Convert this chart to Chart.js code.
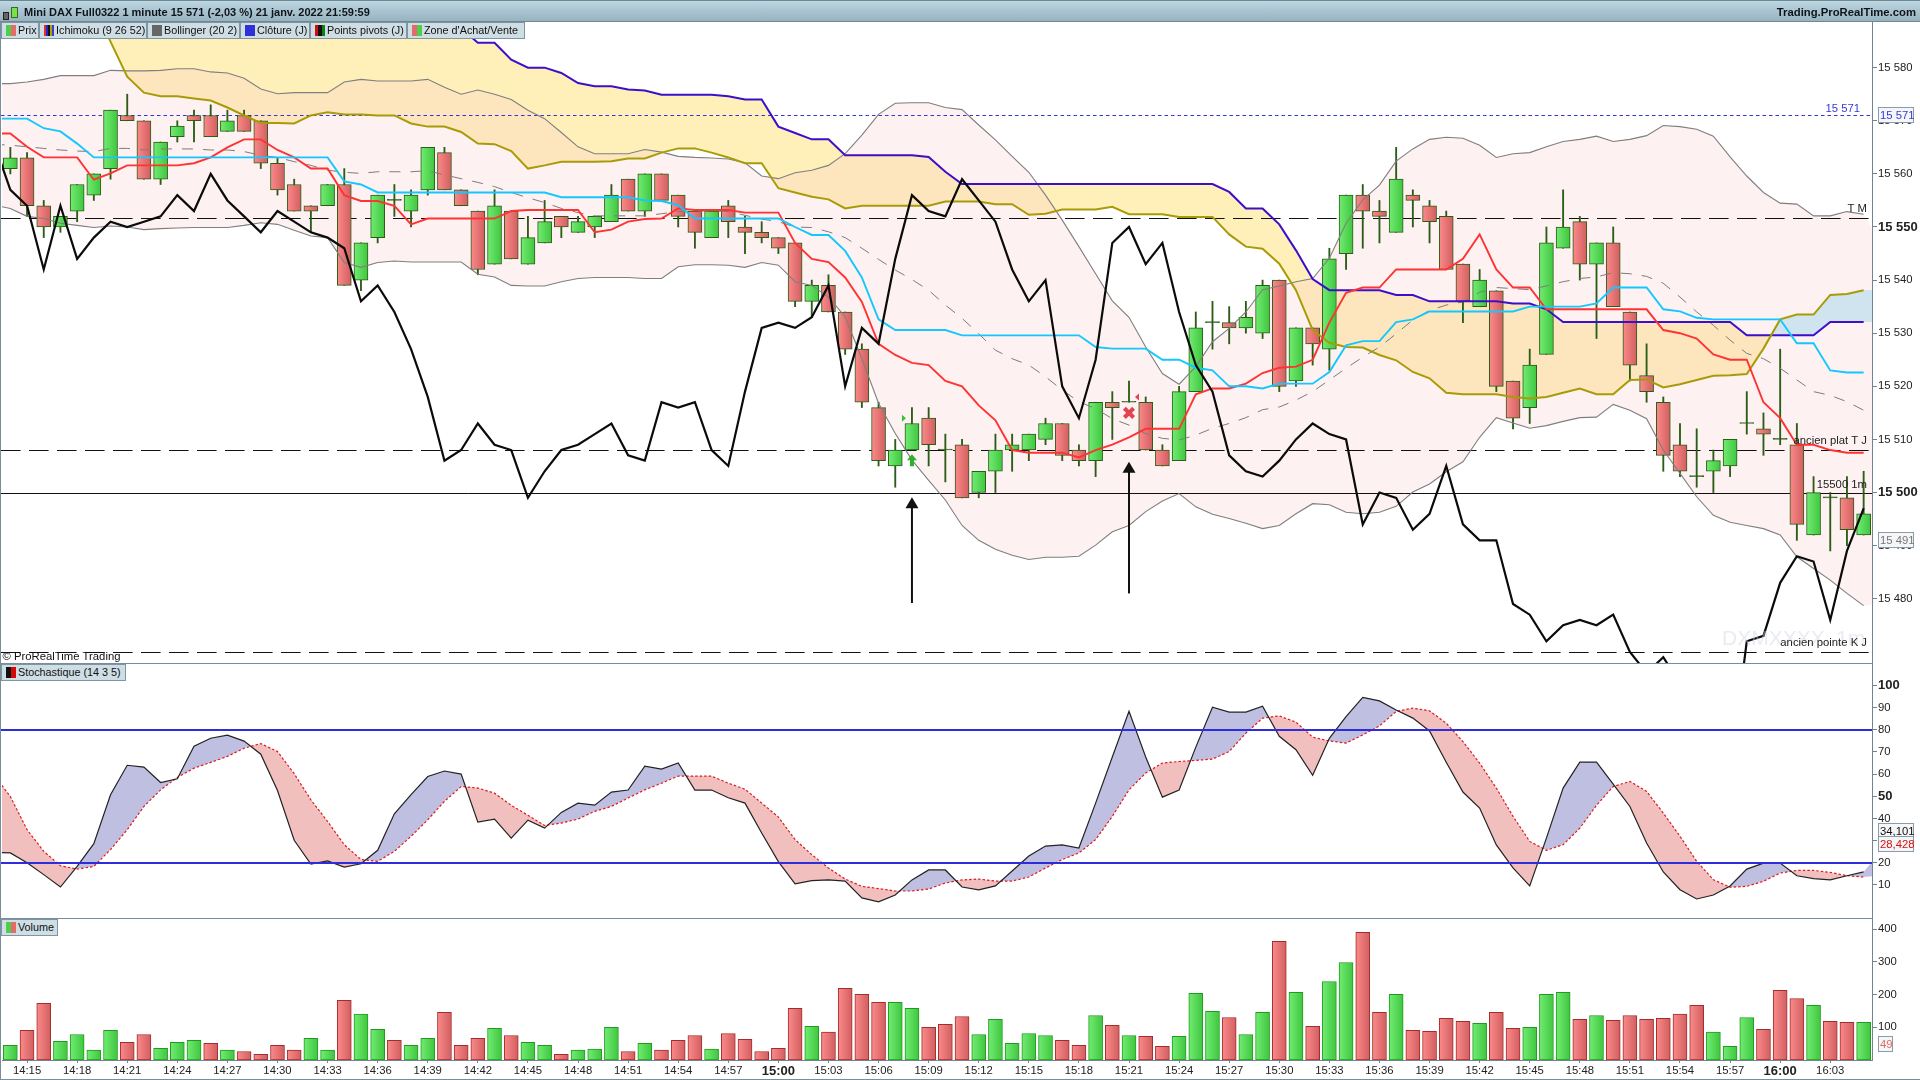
<!DOCTYPE html>
<html lang="fr">
<head>
<meta charset="utf-8">
<title>Mini DAX Full0322 1 minute</title>
<script src="https://cdn.jsdelivr.net/npm/chart.js@4"></script>
<style>
html,body{margin:0;padding:0;background:#fff;width:1920px;height:1080px;overflow:hidden;font-family:"Liberation Sans",Arial,sans-serif;}
canvas{position:absolute;left:0;display:block;}
#header{position:absolute;left:0;top:0;width:1920px;background:linear-gradient(#bcd6e2,#97b3bf);border-bottom:1px solid #71878f;border-top:1px solid #6f8791;box-sizing:border-box;height:22px;font-size:11px;font-weight:bold;color:#10141a;line-height:22px;}
#title{position:absolute;left:24px;top:0;}
#brand{position:absolute;right:4px;top:0;font-size:11.3px;}
.ic{position:absolute;box-sizing:border-box;border:1px solid #222;}
.leg{position:absolute;box-sizing:border-box;height:17px;background:#cfdde4;border:1px solid #7e95a3;font-size:10.8px;line-height:15px;color:#111;padding-left:16px;white-space:nowrap;overflow:hidden;}
.sw{position:absolute;left:4px;top:2px;width:10px;height:11px;}
.sep{position:absolute;left:0;width:1873px;height:1px;background:#7a8e9a;}
#lb{position:absolute;left:0;top:22px;width:1px;height:1058px;background:#7a8e9a;}
#bb{position:absolute;left:0;top:1079px;width:1920px;height:1px;background:#7a8e9a;}
</style>
</head>
<body>
<canvas id="priceCanvas" width="1920" height="641" style="top:22px;width:1920px;height:641px"></canvas>
<canvas id="stochCanvas" width="1920" height="255" style="top:663px;width:1920px;height:255px"></canvas>
<canvas id="volCanvas" width="1920" height="162" style="top:918px;width:1920px;height:162px"></canvas>

<div id="header">
  <div class="ic" style="left:3px;top:11px;width:6px;height:8px;background:#666"></div>
  <div class="ic" style="left:11px;top:6px;width:7px;height:11px;background:#7de04a;border-color:#3a6a20"></div>
  <div id="title">Mini DAX Full0322 1 minute 15 571 (-2,03 %) 21 janv. 2022 21:59:59</div>
  <div id="brand">Trading.ProRealTime.com</div>
</div>
<div class="leg" style="left:1px;top:22px;width:38px"><span class="sw" style="background:linear-gradient(90deg,#4ccf4c 50%,#e56a6a 50%)"></span>Prix</div>
<div class="leg" style="left:39px;top:22px;width:108px"><span class="sw" style="background:linear-gradient(90deg,#e03030 20%,#2828c8 20%,#2828c8 40%,#111 40%,#111 60%,#b8a000 60%,#b8a000 80%,#3040d0 80%)"></span>Ichimoku (9 26 52)</div>
<div class="leg" style="left:147px;top:22px;width:93px"><span class="sw" style="background:#666"></span>Bollinger (20 2)</div>
<div class="leg" style="left:240px;top:22px;width:70px"><span class="sw" style="background:#3030d8"></span>Clôture (J)</div>
<div class="leg" style="left:310px;top:22px;width:97px"><span class="sw" style="background:linear-gradient(90deg,#d01010 33%,#111 33%,#111 66%,#108010 66%)"></span>Points pivots (J)</div>
<div class="leg" style="left:407px;top:22px;width:118px"><span class="sw" style="background:linear-gradient(90deg,#e56a6a 50%,#4ccf4c 50%)"></span>Zone d'Achat/Vente</div>
<div class="leg" style="left:1px;top:664px;width:125px"><span class="sw" style="background:linear-gradient(90deg,#111 50%,#d80808 50%)"></span>Stochastique (14 3 5)</div>
<div class="leg" style="left:1px;top:919px;width:57px"><span class="sw" style="background:linear-gradient(90deg,#4ccf4c 50%,#e56a6a 50%)"></span>Volume</div>
<div class="sep" style="top:663px"></div>
<div class="sep" style="top:918px"></div>
<div id="lb"></div><div id="bb"></div>

<script>
// ---------- categories (first and last one sit just outside the visible window)
const times = ['14:13','14:14','14:15','14:16','14:17','14:18','14:19','14:20','14:21','14:22','14:23','14:24','14:25','14:26','14:27','14:28','14:29','14:30','14:31','14:32','14:33','14:34','14:35','14:36','14:37','14:38','14:39','14:40','14:41','14:42','14:43','14:44','14:45','14:46','14:47','14:48','14:49','14:50','14:51','14:52','14:53','14:54','14:55','14:56','14:57','14:58','14:59','15:00','15:01','15:02','15:03','15:04','15:05','15:06','15:07','15:08','15:09','15:10','15:11','15:12','15:13','15:14','15:15','15:16','15:17','15:18','15:19','15:20','15:21','15:22','15:23','15:24','15:25','15:26','15:27','15:28','15:29','15:30','15:31','15:32','15:33','15:34','15:35','15:36','15:37','15:38','15:39','15:40','15:41','15:42','15:43','15:44','15:45','15:46','15:47','15:48','15:49','15:50','15:51','15:52','15:53','15:54','15:55','15:56','15:57','15:58','15:59','16:00','16:01','16:02','16:03','16:04','16:05','16:06'];
const timeTicks = ['14:15','14:18','14:21','14:24','14:27','14:30','14:33','14:36','14:39','14:42','14:45','14:48','14:51','14:54','14:57','15:00','15:03','15:06','15:09','15:12','15:15','15:18','15:21','15:24','15:27','15:30','15:33','15:36','15:39','15:42','15:45','15:48','15:51','15:54','15:57','16:00','16:03'];
const boldTimes = ['15:00','16:00'];
const priceTicks = [15480,15490,15500,15510,15520,15530,15540,15550,15560,15570,15580];
const boldPrices = [15500,15550];
const stochTicks = [10,20,30,40,50,60,70,80,90,100];
const boldStoch = [50,100];
const volTicks = [100,200,300,400];

// ---------- candles (14:14 .. 16:05)
const open = [15561,15563,15554,15550,15553,15556,15561,15571,15570,15559,15567,15571,15571,15568,15571,15570,15562,15558,15554,15554,15558,15540,15548,15555,15553,15557,15564,15557,15553,15543,15553,15543,15547,15552,15549,15550,15551,15559,15553,15560,15556,15553,15548,15554,15550,15549,15548,15547,15536,15539,15534,15527,15516,15505,15508,15514,15508,15509,15500,15504,15508,15508,15510,15513,15508,15506,15517,15517,15517,15508,15506,15519,15532,15532,15531,15530,15540,15521,15531,15527,15545,15556,15553,15549,15556,15554,15552,15543,15535,15538,15521,15516,15526,15546,15551,15543,15547,15534,15522,15517,15509,15503,15504,15505,15513,15512,15510,15509,15492,15499,15499,15492];
const close = [15563,15554,15550,15552,15558,15560,15572,15570,15559,15566,15569,15570,15567,15570,15568,15562,15557,15553,15553,15558,15539,15547,15556,15555,15556,15565,15557,15554,15542,15554,15544,15548,15551,15550,15551,15552,15556,15553,15560,15555,15552,15549,15553,15551,15549,15548,15546,15536,15539,15534,15527,15517,15506,15508,15513,15509,15508,15499,15504,15508,15509,15511,15513,15507,15506,15517,15516,15517,15508,15505,15519,15531,15532,15531,15533,15539,15520,15531,15528,15544,15556,15553,15552,15559,15555,15551,15542,15536,15540,15520,15514,15524,15547,15550,15543,15547,15535,15524,15519,15507,15504,15503,15506,15510,15513,15511,15510,15494,15500,15499,15493,15496];
const high = [15565,15564,15555,15552,15558,15560,15572,15575,15570,15566,15570,15572,15573,15572,15572,15570,15563,15559,15554,15558,15561,15547,15556,15558,15557,15565,15565,15557,15553,15557,15553,15552,15555,15552,15552,15552,15558,15559,15560,15560,15556,15553,15553,15555,15552,15551,15548,15547,15540,15541,15534,15528,15517,15510,15516,15516,15511,15510,15504,15511,15511,15511,15514,15513,15509,15517,15519,15521,15518,15509,15520,15534,15536,15535,15536,15540,15540,15531,15531,15546,15556,15558,15555,15565,15557,15555,15553,15543,15542,15538,15521,15527,15550,15557,15552,15547,15550,15534,15528,15518,15513,15512,15508,15510,15519,15515,15527,15513,15503,15500,15503,15504];
const low = [15560,15552,15548,15549,15551,15555,15559,15570,15559,15558,15566,15566,15567,15568,15568,15561,15556,15553,15549,15554,15539,15538,15547,15552,15550,15556,15557,15554,15541,15543,15544,15543,15547,15548,15549,15548,15551,15553,15552,15555,15550,15546,15548,15548,15545,15547,15545,15535,15533,15534,15526,15516,15505,15501,15508,15505,15502,15499,15499,15500,15504,15506,15509,15506,15505,15503,15510,15517,15508,15505,15506,15519,15527,15528,15530,15529,15519,15520,15524,15523,15542,15546,15547,15549,15550,15547,15542,15532,15535,15519,15512,15513,15526,15546,15540,15529,15535,15521,15517,15504,15503,15501,15500,15503,15511,15507,15509,15491,15492,15489,15490,15492];

// ---------- Ichimoku, Bollinger, lagging line (14:13 .. 16:06)
const chikou = [15566,15557,15554,15542,15554,15544,15548,15551,15550,15551,15552,15556,15553,15560,15555,15552,15549,15553,15551,15549,15548,15546,15536,15539,15534,15527,15518,15506,15508,15513,15509,15508,15499,15504,15508,15509,15511,15513,15507,15506,15517,15516,15517,15508,15505,15519,15531,15532,15531,15533,15539,15520,15531,15528,15544,15556,15553,15552,15559,15555,15551,15542,15536,15540,15520,15514,15525,15547,15550,15543,15547,15534,15524,15519,15507,15504,15503,15506,15510,15513,15511,15510,15494,15500,15499,15493,15496,15505,15494,15491,15491,15479,15477,15472,15475,15476,15475,15477,15470,15466,15469,15464,15460,15455,15447,15472,15473,15483,15488,15487,15476,15489,15497,15492];
const tenkan = [15567.6,15567.6,15565.1,15563.1,15563.1,15563.1,15558.9,15560.1,15561.6,15561.6,15561.6,15561.6,15562,15563.1,15565,15566.5,15566.5,15564.5,15563.1,15561,15561,15556,15554.9,15554.9,15554,15550.5,15551.6,15551.6,15551.6,15551.6,15551.6,15553,15553.2,15553.2,15553.2,15553.2,15549,15549.5,15551,15551.5,15551.6,15553.5,15553.2,15553.2,15553.2,15552.7,15552.7,15552.7,15547,15544,15543.4,15540.5,15535.9,15528,15525.9,15524.4,15524,15521,15520,15516.4,15513.6,15508,15507.5,15507.5,15507.5,15506.6,15508,15509,15510.4,15512,15512,15512,15518.5,15519.6,15519.6,15520.5,15522.5,15523.5,15523.7,15525,15532,15537.6,15538.6,15538.6,15542,15542,15542,15542,15544,15548.6,15542,15538.6,15538.6,15534.5,15534.5,15534.5,15534.5,15534.5,15534.5,15534.5,15530.6,15530,15529,15526,15525,15525,15517,15514,15509,15509,15508,15507.5,15507.5,15507.5];
const kijun = [15570.4,15570.4,15570.4,15568.6,15568,15565.7,15563.1,15563.1,15563.1,15563.1,15563.1,15563.1,15563.1,15563.1,15563.1,15563.1,15563.1,15563.1,15563.1,15563.1,15563.1,15558.6,15558,15556.5,15556.5,15556.5,15556.5,15556.5,15556.5,15556.5,15556.5,15556.5,15556.5,15556.5,15555.6,15555.6,15555.6,15555.6,15555.6,15555,15554.9,15554.1,15551.6,15551.6,15551.6,15551.6,15551.6,15551.6,15550,15548.5,15548.5,15545.5,15540.5,15532.6,15530.6,15530.6,15530.6,15530.6,15529.6,15529.6,15529.6,15529.6,15529.6,15529.6,15529.6,15529.6,15527.4,15527.1,15527.1,15527.1,15525,15525,15523.5,15523,15520,15520,15519.6,15520.5,15520.5,15520.5,15522.7,15527.7,15528.5,15528.5,15532.1,15532.6,15534.1,15534.1,15534.1,15534.1,15534.1,15534.1,15535,15535,15535,15535,15535.6,15538.6,15538.6,15538.6,15534.5,15534.1,15532.9,15532.6,15532.6,15532.6,15532.6,15532.6,15528.1,15528.1,15523,15522.6,15522.6,15522.6];
const spanA = [15600,15599,15598,15597,15596,15594,15591.5,15584.9,15578.3,15575.3,15574.6,15574.6,15574.2,15573.8,15572.5,15571,15569.6,15569.6,15569.5,15571,15571.6,15571.2,15571.2,15571,15571,15569.5,15568.9,15568.9,15567.9,15565.7,15565.6,15564.3,15561,15561.6,15562.3,15562.3,15562.3,15562.4,15562.9,15562.9,15564,15564.8,15564.8,15564,15563.1,15562,15562,15557.3,15556.5,15555.7,15555.2,15553.5,15554,15554,15554,15554,15554,15554.8,15554.8,15554.8,15554.3,15554.3,15552.3,15552.5,15553.3,15553.3,15553.3,15553.8,15552.4,15552.4,15552.4,15551.9,15551.9,15551.9,15548.6,15546.3,15545.9,15543.1,15538.1,15530.6,15528.2,15527.4,15527.3,15525.9,15524.9,15522.7,15521.5,15518.8,15518.5,15518.5,15518.5,15518,15517.7,15518,15518.8,15519.6,15518.5,15518.5,15521.2,15521.3,15519.8,15520.4,15521.2,15522,15522.1,15522.3,15527.1,15532.6,15533.5,15533.5,15537.2,15537.4,15538.1,15538.2];
const spanB = [15610,15610,15610,15610,15610,15610,15610,15610,15610,15610,15610,15610,15610,15610,15610,15610,15608,15606,15604,15602,15600,15598,15597,15596,15595,15594,15592,15590.2,15587.4,15584.7,15584.7,15581.5,15580,15580,15579,15577.1,15576.5,15576.5,15575.9,15575.7,15574.9,15574.9,15574.9,15574.9,15574.6,15574,15574,15568.9,15567.7,15566.5,15566.5,15563.5,15563.5,15563.5,15563.5,15563.5,15563.2,15560.4,15558.1,15558.1,15558.1,15558.1,15558.1,15558.1,15558.1,15558.1,15558.1,15558.1,15558.1,15558.1,15558.1,15558.1,15558.1,15558.1,15556.6,15553.5,15553.5,15550.5,15545.6,15540.2,15538.1,15538.1,15538.1,15538.1,15537.2,15537.2,15536,15536,15536,15536,15536,15535.6,15535.6,15534.5,15532.1,15532.1,15532.1,15532.1,15532.1,15532.1,15532.1,15532.1,15532.1,15532.1,15532.1,15529.6,15529.6,15529.6,15529.6,15529.6,15532.1,15532.1,15532.1,15532.1];
const bollUp = [15577,15577,15577.3,15577.8,15578.5,15578.5,15578.5,15579.5,15579.4,15579.4,15579.5,15579.8,15579.8,15579.2,15579,15578,15576,15575.1,15575.3,15575.3,15575.3,15577.3,15577.8,15577.5,15577.5,15577.5,15577.8,15576.3,15575,15575.8,15575,15574,15572,15570.4,15567.8,15565.1,15563.8,15563.8,15563.8,15564.6,15564.1,15563.3,15563.1,15563,15562.8,15562.1,15559.6,15559.1,15560.2,15560.7,15561.6,15563.8,15567.3,15571.2,15573.3,15573.4,15573.4,15572.5,15572.1,15569.2,15566.4,15563.3,15560.3,15556,15551.3,15546.3,15541.2,15536.1,15533,15527.4,15522.4,15520.4,15523.7,15528.4,15530.9,15534,15538.2,15538.9,15539.7,15540.3,15544.1,15550.7,15555.1,15557.9,15562.4,15564.7,15566.5,15566.9,15566.7,15565.4,15563.1,15563.8,15564,15565.1,15566.1,15566.5,15567.1,15566.1,15566.5,15567.2,15569.1,15568.9,15568.4,15567.1,15563.2,15559.6,15556.5,15554.5,15554.3,15552.1,15552.1,15552.9,15552.4,15546.9];
const bollMid = [15565.6,15565.4,15565.1,15564.8,15564.5,15564.3,15564.2,15564.8,15564.8,15564.5,15564.7,15564.7,15564.7,15564.5,15564.5,15564.2,15563.5,15563.1,15562.3,15561.6,15560.7,15560.3,15560.1,15560.4,15560.4,15560.4,15560.6,15559.8,15559.1,15558.4,15557.6,15556.5,15555.5,15554.6,15553.5,15552.7,15552.1,15552.1,15552.1,15552.1,15552.5,15552.9,15553,15553,15552.9,15552.2,15551.5,15551,15550,15549.9,15549.1,15548,15546,15543.9,15541.9,15540.1,15538.1,15535.3,15532.8,15529.9,15526.8,15525.2,15524,15521.8,15519.3,15517.1,15515.8,15513.9,15512.7,15511.1,15510.2,15509.9,15510.8,15512.1,15513,15514.1,15515.6,15516.1,15517.4,15519,15521.2,15523.4,15525.5,15527.4,15529.9,15532.5,15534.3,15535.3,15535.9,15537.7,15538.6,15538.4,15538.2,15538.9,15539.7,15540.3,15540.6,15541.4,15541.2,15540.7,15539.4,15536.8,15534,15531.5,15528.7,15526.2,15525.2,15523.4,15521.2,15519,15518.3,15517.1,15515.5,15514.5];
const bollLow = [15554.1,15553.5,15552,15551.6,15550.7,15550.3,15549.9,15550.2,15550,15549.5,15549.7,15549.8,15549.9,15549.9,15549.9,15550.3,15550.8,15550.5,15549.4,15548.3,15548,15543.3,15542.4,15543.3,15543.6,15543.4,15543.4,15543.4,15543.4,15541.1,15540.6,15539,15538.9,15538.9,15539.7,15540.3,15540.5,15540.5,15540.5,15540.3,15540.3,15542.5,15542.9,15542.9,15542.8,15542.4,15543.3,15542.8,15539.7,15539,15536.8,15533.1,15525.2,15516.8,15511.1,15506.1,15502.3,15498.6,15493.8,15491,15489.3,15488.2,15487.4,15487.8,15487.8,15488,15490.1,15492.6,15493.8,15496.4,15498.4,15499.8,15497.3,15495.9,15495.1,15494.2,15493.2,15493.8,15496,15497.9,15497.7,15496.3,15496,15496.3,15497.4,15500.1,15501.6,15503.9,15505.8,15510.4,15514.1,15513.1,15512.1,15512.6,15513.4,15514.1,15514.2,15516.6,15515.5,15513.9,15508,15503.6,15499.2,15495.7,15494.4,15493.8,15493.2,15492,15487.9,15485.7,15483.5,15481,15478.7,15479];

// ---------- stochastic (14:13 .. 16:06)
const stochK = [24.6,24.4,20,14.6,9,18.3,28.6,50.7,64,63.2,56.2,57.9,72.6,76.2,77.6,74.9,69,52.6,30.1,19.4,20.8,18,19.5,25.6,42.1,50.7,58.9,61.4,60,38.3,39.7,31.1,39.2,35.6,42.7,46.9,46,51.9,52.8,63.6,62.3,65,52.8,52.8,49.3,46.9,33.4,20.5,10.4,11.9,12.2,11.7,4.1,2.3,5.4,12.2,16.7,16.7,9,7.7,9.5,16.2,23,27.5,28,26.6,46.9,67.7,88.4,67.7,49.6,52.8,72.2,90.2,88,88,90.7,77.1,71,59.5,76.2,86,94.7,93.1,89,85.3,79.5,65.4,51.9,44.7,28,17.6,9.5,31.1,53.7,65.4,65.4,55.5,45.4,28.9,15.8,7.8,3.6,5.4,9.5,17.1,19.8,19.8,14.1,12.8,12.2,14.1,15.8,25];
const stochD = [59.7,49.9,34.9,25.1,18.6,17.1,18.3,25.9,34.9,45.4,52.9,58.5,62.7,65.3,68,71.7,73.8,70.2,60.2,48.4,38.6,28.1,21.4,20.6,25.1,31.9,39.4,47.7,54.4,53.7,51.4,45.9,41.4,36.8,37.9,39.7,43.2,45.4,49.2,52.9,55.9,59.1,59.1,59.1,55.9,53.2,46.9,40.6,30.4,23.6,17.6,12.6,9.3,8.3,7.2,7.2,8.1,10.8,12.2,12.6,11.7,11.7,13.5,17.6,21.4,24.4,30.4,40.9,52.9,60.5,65,65.7,66.2,66.8,70.2,78.5,85.3,86.3,83.5,76.7,75,74,77.7,81.8,88.3,89.8,88.6,83,74.7,65,53.7,40.9,29.6,25.6,28.1,35.6,45.9,54.4,56.7,52.2,42.4,31.9,20.6,12.3,8.9,9.3,11.6,15.3,16.5,16.5,15.6,14.1,13.5,14];

// ---------- volume (14:14 .. 16:05)
const volume = [45,91,173,57,78,30,91,54,78,36,54,60,51,30,26,17,45,30,66,30,182,140,94,60,45,66,146,45,66,97,75,54,45,17,30,33,100,26,51,30,60,75,33,81,63,26,36,158,103,85,219,201,176,176,158,100,109,133,78,124,51,81,75,60,45,136,106,75,72,42,72,204,149,130,78,146,363,207,103,240,298,390,146,201,91,88,127,118,112,146,97,100,201,207,124,136,121,136,124,127,140,167,85,42,130,94,213,188,167,118,115,115];
const volumeSide = ['g','r','r','g','g','g','g','r','r','g','g','g','r','g','r','r','r','r','g','g','r','g','g','r','g','g','r','r','r','g','r','g','g','r','g','g','g','r','g','r','r','r','g','r','r','r','r','r','g','r','r','r','r','g','g','r','r','r','g','g','g','g','g','r','r','g','r','g','r','r','g','g','g','r','g','g','r','g','r','g','g','r','r','g','r','r','r','r','g','r','r','g','g','g','r','g','r','r','r','r','r','r','g','g','g','r','r','r','g','r','r','g'];

// ---------- reference levels and annotations
const dashedLevels = [15551.7,15508.1,15470];
const solidLevel = 15500;
const lastPrice = 15571;
const lastClose = 15491;
const stochBands = [80,20];
const lastK = 34.101, lastD = 28.428, lastVolume = 49;
const longArrows = [{time:'15:08',from:15479.2,to:15499.1},{time:'15:21',from:15481,to:15505.8}];
const buyArrow = {time:'15:08',price:15507.2};
const sideMarks = [{time:'15:08',price:15514,dir:1,color:'#35c435'},{time:'15:21',price:15518,dir:-1,color:'#e8404c'}];
const chartNotes = [
  {text:'T M',price:15553.4},{text:'ancien plat T J',price:15509.7},
  {text:'15500 1m',price:15501.5},{text:'ancien pointe K J',price:15471.6}
];

const FONT = '"Liberation Sans", Arial, sans-serif';
Chart.defaults.font.family = FONT;
Chart.defaults.font.size = 11.3;
Chart.defaults.color = '#222';
Chart.defaults.animation = false;

const AXIS = '#6f8591', DARK = '#2b5d16';
const pad = a => [null, ...a, null];
const xMin = times[1], xMax = times[times.length - 2];

function barFill(ctx, side, half) {
  const pal = side === 'g' ? ['#72ec72','#3fc63f'] : ['#fb8a8a','#d25f5f'];
  if (ctx.dataIndex === undefined) return pal[0];
  const x = ctx.chart.scales.x.getPixelForValue(ctx.dataIndex);
  const g = ctx.chart.ctx.createLinearGradient(x - half, 0, x + half, 0);
  g.addColorStop(0, pal[0]); g.addColorStop(1, pal[1]);
  return g;
}
const fitY = s => { s.width = 48; s.paddingTop = 0; s.paddingBottom = 0; };
function yAxis(min, max, list, bold, fmt) {
  return {
    position: 'right', min, max, afterFit: fitY,
    afterBuildTicks: s => { s.ticks = list.map(value => ({value})); },
    border: {color: AXIS, width: 1},
    grid: {drawOnChartArea: false, tickLength: 5, tickColor: AXIS, tickWidth: 1},
    ticks: {
      padding: 1, autoSkip: false, color: '#222', callback: fmt,
      font: c => (c.tick && bold.includes(c.tick.value)) ? {size: 13, weight: 'bold'} : {size: 11.3}
    }
  };
}
const hiddenX = {type: 'category', labels: times, min: xMin, max: xMax, offset: true, display: false, grid: {offset: false}};
const baseOpts = {
  responsive: false, animation: false, maintainAspectRatio: false, devicePixelRatio: 1,
  layout: {autoPadding: false, padding: {left: 2, right: 0, top: 0, bottom: 0}},
  events: [],
  plugins: {legend: {display: false}, tooltip: {enabled: false}, title: {display: false}, filler: {drawTime: 'beforeDatasetsDraw'}}
};
const sp = v => String(v).replace(/(\d{2})(\d{3})/, '$1 $2');
function valueBox(c, y, text, color, w) {
  const ctx = c.ctx; ctx.save();
  ctx.fillStyle = '#f4f6f7'; ctx.strokeStyle = '#8a9ca8'; ctx.lineWidth = 1;
  ctx.fillRect(1878.5, Math.round(y) - 7.5, w, 15); ctx.strokeRect(1878.5, Math.round(y) - 7.5, w, 15);
  ctx.fillStyle = color; ctx.font = '11.3px ' + FONT; ctx.textAlign = 'left'; ctx.textBaseline = 'middle';
  ctx.fillText(text, 1880, Math.round(y) + 0.5); ctx.restore();
}

const priceLevels = {
  id: 'priceLevels',
  beforeDatasetsDraw(c) {
    const {ctx, chartArea: a, scales: {y}} = c; ctx.save();
    ctx.beginPath(); ctx.rect(a.left - 2, a.top, a.width + 2, a.height); ctx.clip();
    ctx.strokeStyle = '#111'; ctx.lineWidth = 1; ctx.setLineDash([19.6, 8.4]);
    dashedLevels.forEach(v => { const p = Math.round(y.getPixelForValue(v)) + .5; ctx.beginPath(); ctx.moveTo(1, p); ctx.lineTo(a.right - 2, p); ctx.stroke(); });
    ctx.setLineDash([]);
    let p = Math.round(y.getPixelForValue(solidLevel)) + .5; ctx.beginPath(); ctx.moveTo(1, p); ctx.lineTo(a.right, p); ctx.stroke();
    ctx.strokeStyle = '#3434d8'; ctx.setLineDash([3.5, 3]);
    p = Math.round(y.getPixelForValue(lastPrice)) + .5; ctx.beginPath(); ctx.moveTo(1, p); ctx.lineTo(a.right, p); ctx.stroke();
    ctx.restore();
  },
  afterDatasetsDraw(c) {
    const {ctx, chartArea: a, scales: {x, y}} = c; ctx.save();
    // long black arrows
    ctx.strokeStyle = '#111'; ctx.fillStyle = '#111'; ctx.lineWidth = 2;
    longArrows.forEach(r => {
      const px = x.getPixelForValue(r.time), y0 = y.getPixelForValue(r.from), y1 = y.getPixelForValue(r.to);
      ctx.beginPath(); ctx.moveTo(px, y0); ctx.lineTo(px, y1 + 8); ctx.stroke();
      ctx.beginPath(); ctx.moveTo(px, y1); ctx.lineTo(px - 6.5, y1 + 11); ctx.lineTo(px + 6.5, y1 + 11); ctx.closePath(); ctx.fill();
    });
    // buy signal arrow
    const ax = x.getPixelForValue(buyArrow.time), ay = y.getPixelForValue(buyArrow.price);
    ctx.fillStyle = '#2eb02e'; ctx.beginPath();
    ctx.moveTo(ax, ay); ctx.lineTo(ax + 5, ay + 6); ctx.lineTo(ax + 2, ay + 6); ctx.lineTo(ax + 2, ay + 12); ctx.lineTo(ax - 2, ay + 12); ctx.lineTo(ax - 2, ay + 6); ctx.lineTo(ax - 5, ay + 6); ctx.closePath(); ctx.fill();
    // small side triangles next to the signal candles
    sideMarks.forEach(m => {
      const mx = x.getPixelForValue(m.time) + (m.dir > 0 ? -8 : 8), my = y.getPixelForValue(m.price);
      ctx.fillStyle = m.color; ctx.beginPath();
      ctx.moveTo(mx + 2 * m.dir, my); ctx.lineTo(mx - 2 * m.dir, my - 3.5); ctx.lineTo(mx - 2 * m.dir, my + 3.5); ctx.closePath(); ctx.fill();
    });
    // watermark under the notes
    ctx.fillStyle = 'rgba(205,212,226,.45)'; ctx.font = '21px ' + FONT; ctx.textAlign = 'left'; ctx.textBaseline = 'middle';
    ctx.fillText('DXMXXXX, 1m', 1722, y.getPixelForValue(15472) - 2);
    // text notes
    ctx.fillStyle = '#222'; ctx.font = '11.3px ' + FONT; ctx.textAlign = 'right';
    chartNotes.forEach(n => ctx.fillText(n.text, 1867, y.getPixelForValue(n.price)));
    ctx.fillStyle = '#3a3ad8'; ctx.fillText('15 571', 1860, y.getPixelForValue(lastPrice) - 7);
    ctx.fillStyle = '#111'; ctx.textAlign = 'left'; ctx.fillText('© ProRealTime Trading', 2.5, a.bottom - 6);
    ctx.restore();
  },
  afterDraw(c) {
    const y = c.scales.y;
    valueBox(c, y.getPixelForValue(lastPrice), sp(lastPrice), '#3a3ad8', 35);
    valueBox(c, y.getPixelForValue(lastClose), sp(lastClose), '#777', 35);
  }
};

new Chart(document.getElementById('priceCanvas'), {
  type: 'bar',
  data: {labels: times, datasets: [
    {type:'line', label:'Chikou', data: chikou, borderColor:'#0b0b0b', borderWidth:2.2, pointRadius:0, order:1},
    {type:'line', label:'Tenkan', data: tenkan, borderColor:'#ff3333', borderWidth:1.9, pointRadius:0, order:3},
    {type:'line', label:'Kijun', data: kijun, borderColor:'#14c8ff', borderWidth:1.9, pointRadius:0, order:2},
    {type:'line', label:'Span B', data: spanB, borderColor:'#3c0fc8', borderWidth:2, pointRadius:0, order:5},
    {type:'line', label:'Span A', data: spanA, borderColor:'#a89b08', borderWidth:2, pointRadius:0, order:4},
    {type:'line', label:'Boll mid', data: bollMid, borderColor:'#7c7c7c', borderWidth:1, borderDash:[11,10], pointRadius:0, order:6},
    {type:'line', label:'Boll low', data: bollLow, borderColor:'#7f7f7f', borderWidth:1.1, pointRadius:0, order:8},
    {type:'line', label:'Boll up', data: bollUp, borderColor:'#7f7f7f', borderWidth:1.1, pointRadius:0, order:7,
      fill:{target:6, above:'rgba(247,199,199,.25)', below:'rgba(247,199,199,.25)'}},
    {type:'bar', label:'Corps', data: pad(open.map((o,i)=>[o,close[i]])), grouped:false, barThickness:14, minBarLength:1, order:9,
      borderColor:DARK, borderWidth:1, borderSkipped:false,
      backgroundColor:c=>{ if(c.dataIndex===undefined||c.raw===null||c.raw===undefined) return DARK; const v=c.raw; return v[0]===v[1]?DARK:barFill(c, v[1]>=v[0]?'g':'r', 7); }},
    {type:'bar', label:'Mèches', data: pad(low.map((l,i)=>[l,high[i]])), grouped:false, barThickness:1.2, order:10,
      backgroundColor:DARK, borderWidth:0},
    {type:'line', label:'Sortie', data: times.map(t=>t==='15:21'?15515:null), showLine:false, pointStyle:'crossRot', pointRadius:6.5, pointBorderWidth:4, pointBorderColor:'#e2434f', order:0},
    {type:'line', label:'Nuage', data: spanA, borderWidth:0, borderColor:'rgba(0,0,0,0)', pointRadius:0, order:20,
      fill:{target:3, above:'#c2eefc', below:'#fff0ba'}}
  ]},
  options: {...baseOpts, scales: {x: hiddenX, y: yAxis(15467.9, 15588.6, priceTicks, boldPrices, sp)}},
  plugins: [priceLevels]
});

const stochPlugin = {
  id:'stochPlugin',
  afterDatasetsDraw(c){ const {ctx,chartArea:a,scales:{y}}=c; ctx.save(); ctx.strokeStyle='#2d2ddc'; ctx.lineWidth=2;
    stochBands.forEach(v=>{const p=Math.round(y.getPixelForValue(v)); ctx.beginPath(); ctx.moveTo(1,p); ctx.lineTo(a.right,p); ctx.stroke();}); ctx.restore(); },
  afterDraw(c){ const y=c.scales.y; valueBox(c,y.getPixelForValue(lastK),'34,101','#111',35); valueBox(c,y.getPixelForValue(lastD),'28,428','#d81010',35); }
};
new Chart(document.getElementById('stochCanvas'), {
  type:'line',
  data:{labels:times,datasets:[
    {label:'%K',data:stochK,borderColor:'#222',borderWidth:1.2,pointRadius:0,order:1,fill:{target:1,above:'#bfc0e1',below:'#f2bfbf'}},
    {label:'%D',data:stochD,borderColor:'#e01818',borderWidth:1.2,borderDash:[2.5,2],pointRadius:0,order:2}
  ]},
  options:{...baseOpts,
    scales:{x:hiddenX,y:yAxis(-5,110.2,stochTicks,boldStoch,v=>String(v))}},
  plugins:[stochPlugin]
});

const volPlugin = {id:'volPlugin',afterDraw(c){ const y=c.scales.y; valueBox(c,y.getPixelForValue(lastVolume),String(lastVolume),'#e06a6a',14); }};
new Chart(document.getElementById('volCanvas'), {
  type:'bar',
  data:{labels:times,datasets:[
    {label:'Volume',data:pad(volume),barThickness:14,borderWidth:1,borderSkipped:false,
      borderColor:c=>{const s=volumeSide[c.dataIndex-1];return s==='g'?'#1f9c1f':'#a52c2c';},
      backgroundColor:c=>{ if(c.dataIndex===undefined||c.raw===null||c.raw===undefined) return '#ccc'; return barFill(c,volumeSide[c.dataIndex-1],7); }}
  ]},
  options:{...baseOpts,scales:{
    x:{type:'category',labels:times,min:xMin,max:xMax,offset:true,
      afterFit:s=>{s.height=20;s.paddingLeft=0;s.paddingRight=0;},
      afterBuildTicks:s=>{s.ticks=s.ticks.filter(t=>timeTicks.includes(times[t.value]));},
      border:{color:AXIS,width:1},
      grid:{offset:false,drawOnChartArea:false,tickLength:3,tickColor:AXIS},
      ticks:{autoSkip:false,maxRotation:0,minRotation:0,padding:1,color:'#222',
        callback(v){return times[v];},
        font:c=>(c.tick&&boldTimes.includes(times[c.tick.value]))?{size:13,weight:'bold'}:{size:11.3}}},
    y:yAxis(0,434,volTicks,[],v=>String(v))
  }},
  plugins:[volPlugin]
});
</script>
</body>
</html>
